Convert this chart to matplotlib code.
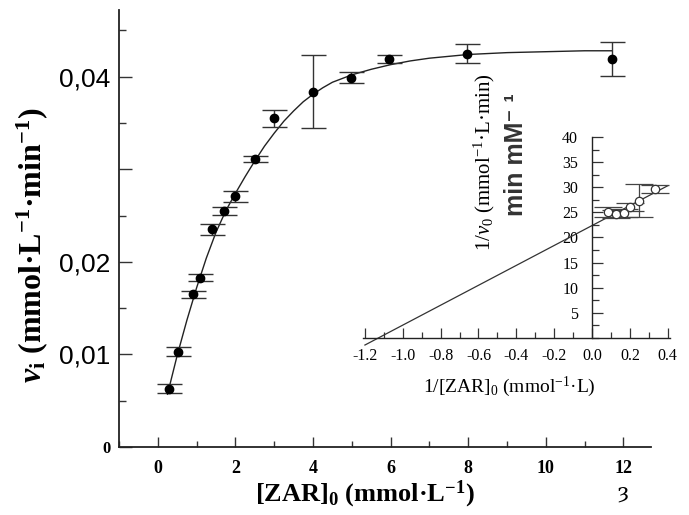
import matplotlib
matplotlib.use("Agg")
import matplotlib.pyplot as plt
from matplotlib.ticker import MultipleLocator, FixedLocator

plt.rcParams["axes.unicode_minus"] = False
plt.rcParams["mathtext.fontset"] = "custom"
plt.rcParams["mathtext.rm"] = "Liberation Serif"
plt.rcParams["mathtext.it"] = "Liberation Serif:italic"
plt.rcParams["mathtext.bf"] = "Liberation Serif:bold"
plt.rcParams["mathtext.bfit"] = "Liberation Serif:bold:italic"

# main plot: initial rate vs substrate concentration
zar = [0.28, 0.51, 0.90, 1.10, 1.40, 1.70, 2.00, 2.50, 3.00, 4.00, 4.97, 5.95, 7.96, 11.70]
vi = [0.0063, 0.0103, 0.0165, 0.0183, 0.0235, 0.0255, 0.0271, 0.0311, 0.0355, 0.0384,
      0.0399, 0.0419, 0.0425, 0.0419]
vi_err = [0.0005, 0.0005, 0.0004, 0.0004, 0.0006, 0.0004, 0.0006, 0.0003, 0.0009, 0.0039,
          0.0006, 0.0004, 0.0010, 0.0018]

# fitted curve
fit_x = [0.25, 0.5, 0.75, 1.0, 1.25, 1.5, 1.75, 2.0, 2.25, 2.5, 2.75, 3.0, 3.25, 3.5, 3.75,
         4.0, 4.25, 4.5, 4.75, 5.0, 5.5, 6.0, 6.5, 7.0, 8.0, 9.0, 10.0, 11.0, 11.7]
fit_y = [0.0057, 0.0099, 0.0137, 0.0172, 0.0204, 0.0232, 0.0255, 0.0274, 0.0292, 0.0309,
         0.0325, 0.0339, 0.0352, 0.0363, 0.0373, 0.0381, 0.0388, 0.0394, 0.0398, 0.0402,
         0.0408, 0.0413, 0.0417, 0.0420, 0.0424, 0.0426, 0.0427, 0.0428, 0.0428]

# inset: Lineweaver-Burk
inv_zar = [0.083, 0.125, 0.167, 0.200, 0.250, 0.333]
inv_v = [25.0, 24.6, 24.9, 26.0, 27.3, 29.6]
inv_v_err = [1.0, 0.8, 0.8, 0.8, 3.3, 0.8]
lb_x = [-1.20, 0.40]
lb_y = [-1.4, 30.3]

fig = plt.figure(figsize=(6.89, 5.15), dpi=100)
ax = fig.add_axes([0.1727, 0.1320, 0.7716, 0.8485])

ax.plot(fit_x, fit_y, color="#222222", lw=1.0)
ax.errorbar(zar, vi, yerr=vi_err, fmt="o", color="black", ms=6, ecolor="#333333",
            elinewidth=1.0, capsize=9, capthick=1.0)

ax.set_xlim(-1.0, 12.7)
ax.set_ylim(0, 0.0472)
for s in ["top", "right"]:
    ax.spines[s].set_visible(False)
for s in ["left", "bottom"]:
    ax.spines[s].set_linewidth(1.3)
    ax.spines[s].set_color("#222222")

ax.xaxis.set_minor_locator(MultipleLocator(1))
ax.set_xticks([0, 2, 4, 6, 8, 10, 12])
ax.set_xticklabels(["0", "2", "4", "6", "8", "10", "12"], family="Liberation Serif",
                   fontweight="bold", fontsize=13)
ax.yaxis.set_major_locator(FixedLocator([0, 0.01, 0.02, 0.03, 0.04]))
ax.yaxis.set_minor_locator(MultipleLocator(0.005))
ax.set_yticklabels(["0", "0,01", "0,02", "", "0,04"], family="Liberation Sans", fontsize=19)
lab0 = ax.get_yticklabels()[0]
lab0.set_fontfamily("Liberation Serif")
lab0.set_fontweight("bold")
lab0.set_fontsize(12)

ax.tick_params(which="both", direction="in", color="#333333")
ax.tick_params(axis="x", which="major", length=7, width=1.0, pad=9)
ax.tick_params(axis="x", which="minor", length=4, width=1.0)
ax.tick_params(axis="y", which="major", length=9, width=1.0, pad=6)
ax.tick_params(axis="y", which="minor", length=5, width=1.0)

fig.text(0.530, 0.040, r"[ZAR]$_\mathbf{0}$ (mmol·L$^\mathbf{-1}$)", ha="center", va="center",
         family="Liberation Serif", fontweight="bold", fontsize=19)
fig.text(0.046, 0.524, r"$\mathbfit{v}_\mathbf{i}$ (mmol·L$^\mathbf{-1}$·min$^\mathbf{-1}$)",
         ha="center", va="center", rotation=90, family="Liberation Serif",
         fontweight="bold", fontsize=23)
fig.text(0.904, 0.043, "ȝ", ha="center", va="center", family=["DejaVu Serif"], fontsize=15)

# inset
ins = fig.add_axes([0.5269, 0.3437, 0.445, 0.3903])
ins.patch.set_alpha(0)
ins.plot(lb_x, lb_y, color="#333333", lw=0.9, clip_on=False)
ins.errorbar(inv_zar, inv_v, yerr=inv_v_err, fmt="o", mfc="white", mec="#333333", ms=6,
             ecolor="#444444", elinewidth=0.9, capsize=10, capthick=0.9, mew=0.9)
ins.set_xlim(-1.21, 0.41)
ins.set_ylim(0, 40)
ins.spines["left"].set_position(("data", 0))
for s in ["top", "right"]:
    ins.spines[s].set_visible(False)
for s in ["left", "bottom"]:
    ins.spines[s].set_linewidth(1.0)
    ins.spines[s].set_color("#222222")
ins.set_xticks([-1.2, -1.0, -0.8, -0.6, -0.4, -0.2, 0.0, 0.2, 0.4])
ins.set_xticklabels(["-1.2", "-1.0", "-0.8", "-0.6", "-0.4", "-0.2", "0.0", "0.2", "0.4"],
                    family="Liberation Serif", fontsize=11.5)
ins.xaxis.set_minor_locator(MultipleLocator(0.1))
ins.set_yticks([5, 10, 15, 20, 25, 30, 35, 40])
ins.set_yticklabels(["5", "10", "15", "20", "25", "30", "35", "40"],
                    family="Liberation Serif", fontsize=11.5)
ins.yaxis.set_minor_locator(MultipleLocator(2.5))
ins.tick_params(which="both", direction="in", color="#333333")
ins.tick_params(axis="x", which="major", length=7, width=0.9, pad=7)
ins.tick_params(axis="x", which="minor", length=4, width=0.9)
ins.tick_params(axis="y", which="major", length=8, width=0.9, pad=10)
ins.tick_params(axis="y", which="minor", length=5, width=0.9)

fig.text(0.740, 0.249, r"1/[ZAR]$_0$ (mmol$^{-1}$·L)", ha="center", va="center",
         family="Liberation Serif", fontsize=14)
fig.text(0.7025, 0.685, r"1/$\mathit{v}_0$ (mmol$^{-1}$·L·min)", ha="center", va="center",
         rotation=90, family="Liberation Serif", fontsize=15)
fig.text(0.749, 0.699, "min mM⁻ ¹", ha="center", va="center", rotation=90,
         family=["Liberation Sans", "DejaVu Sans"], fontweight="bold", fontsize=18,
         color="#333333")

fig.savefig("out.png", dpi=100)
